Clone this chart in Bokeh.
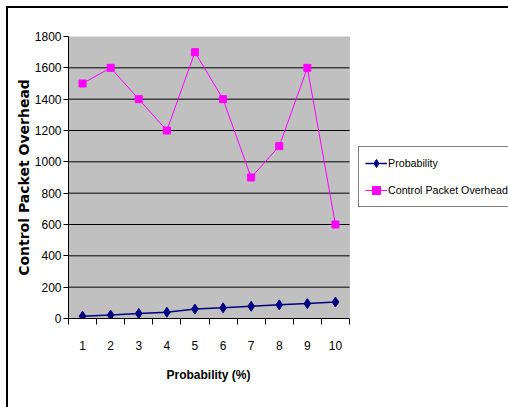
from bokeh.plotting import figure
from bokeh.models import Range1d, FixedTicker, Legend, LegendItem, BoxAnnotation, Title
from bokeh.embed import file_html
from bokeh.resources import INLINE

# Data
categories = [1, 2, 3, 4, 5, 6, 7, 8, 9, 10]
tick_labels = ["1", "2", "3", "4", "5", "6", "7", "8", "9", "10"]
probability = [15, 22, 32, 40, 60, 68, 78, 87, 95, 105]
control_packet_overhead = [1500, 1600, 1400, 1200, 1700, 1400, 900, 1100, 1600, 600]
y_ticks = [0, 200, 400, 600, 800, 1000, 1200, 1400, 1600, 1800]
grid_values = [200, 400, 600, 800, 1000, 1200, 1400, 1600]

FONT = "Liberation Sans"

# layout (pixels)
W, H = 508, 407
LEFT, TOP, BOTTOM = 68, 36, 89
AREA_W = 281  # width of the grey plot area

x_lo, x_hi = categories[0] - 0.5, categories[-1] + 0.5
x_end = x_lo + (x_hi - x_lo) * (W - LEFT) / AREA_W

css = """
:host::after {
  content: '';
  position: absolute;
  left: 6px; top: 6px; right: 0px; bottom: 0px;
  border-top: 2px solid black;
  border-left: 2px solid black;
  pointer-events: none;
}
"""

p = figure(width=W, height=H, output_backend="svg", toolbar_location=None,
           x_range=Range1d(x_lo, x_end), y_range=Range1d(y_ticks[0], y_ticks[-1]),
           min_border_left=LEFT, min_border_right=0, min_border_top=TOP,
           min_border_bottom=BOTTOM, stylesheets=[css])

p.background_fill_color = "white"
p.border_fill_color = "white"
p.outline_line_color = None
p.xgrid.grid_line_color = None
p.ygrid.grid_line_color = None

# grey plot area
area = BoxAnnotation(left=x_lo, right=x_hi, bottom=y_ticks[0], top=y_ticks[-1],
                     fill_color="#c0c0c0", fill_alpha=1,
                     line_color="#808080", line_width=1, level="image")
p.add_layout(area)

# horizontal gridlines limited to the plot area
p.segment(x0=[x_lo] * len(grid_values), x1=[x_hi] * len(grid_values),
          y0=grid_values, y1=grid_values, line_color="black", line_width=1)

# X axis
p.xaxis.bounds = (x_lo, x_hi)
p.xaxis.ticker = FixedTicker(ticks=categories, minor_ticks=[c + 0.5 for c in [0] + categories])
p.xaxis.major_label_overrides = {c: t for c, t in zip(categories, tick_labels)}
p.xaxis.major_tick_out = 0
p.xaxis.major_tick_in = 0
p.xaxis.minor_tick_out = 6
p.xaxis.minor_tick_in = 0
p.xaxis.minor_tick_line_color = "black"
p.xaxis.axis_line_color = "black"
p.xaxis.major_label_standoff = 16
p.xaxis.major_label_text_font = FONT
p.xaxis.major_label_text_font_size = "12px"
p.xaxis.major_label_text_color = "black"

# X axis title, centred under the grey plot area
xtitle = Title(text="Probability (%)", align="left", offset=98, standoff=26,
               text_font=FONT, text_font_size="12px", text_font_style="bold",
               text_color="black")
p.add_layout(xtitle, "below")

# Y axis
p.yaxis.ticker = FixedTicker(ticks=y_ticks, minor_ticks=[])
p.yaxis.major_tick_out = 5
p.yaxis.major_tick_in = 0
p.yaxis.major_tick_line_color = "black"
p.yaxis.axis_line_color = "black"
p.yaxis.major_label_standoff = 2
p.yaxis.major_label_text_font = FONT
p.yaxis.major_label_text_font_size = "12px"
p.yaxis.major_label_text_color = "black"
p.yaxis.axis_label = "Control Packet Overhead"
p.yaxis.axis_label_text_font = "DejaVu Sans"
p.yaxis.axis_label_text_font_size = "14px"
p.yaxis.axis_label_text_font_style = "bold"
p.yaxis.axis_label_text_color = "black"
p.yaxis.axis_label_standoff = 0

# Series
l1 = p.line(categories, probability, line_color="#000080", line_width=1.5)
s1 = p.scatter(categories, probability, marker="diamond", size=10,
               fill_color="#000080", line_color="#000080")
l2 = p.line(categories, control_packet_overhead, line_color="#ff00ff", line_width=1)
s2 = p.scatter(categories, control_packet_overhead, marker="square", size=7,
               fill_color="#ff00ff", line_color="#ff00ff")

legend = Legend(items=[LegendItem(label="Probability", renderers=[l1, s1]),
                       LegendItem(label="Control Packet Overhead", renderers=[l2, s2])],
                location=(290, 111))
legend.border_line_color = "black"
legend.border_line_width = 1
legend.background_fill_color = "white"
legend.background_fill_alpha = 1
legend.padding = 6
legend.margin = 0
legend.spacing = 7
legend.label_height = 20
legend.glyph_height = 20
legend.glyph_width = 22
legend.label_standoff = 1
legend.label_text_font = FONT
legend.label_text_font_size = "10.7px"
legend.label_text_color = "black"
p.add_layout(legend, "center")

open("out.html", "w").write(file_html(p, INLINE))
